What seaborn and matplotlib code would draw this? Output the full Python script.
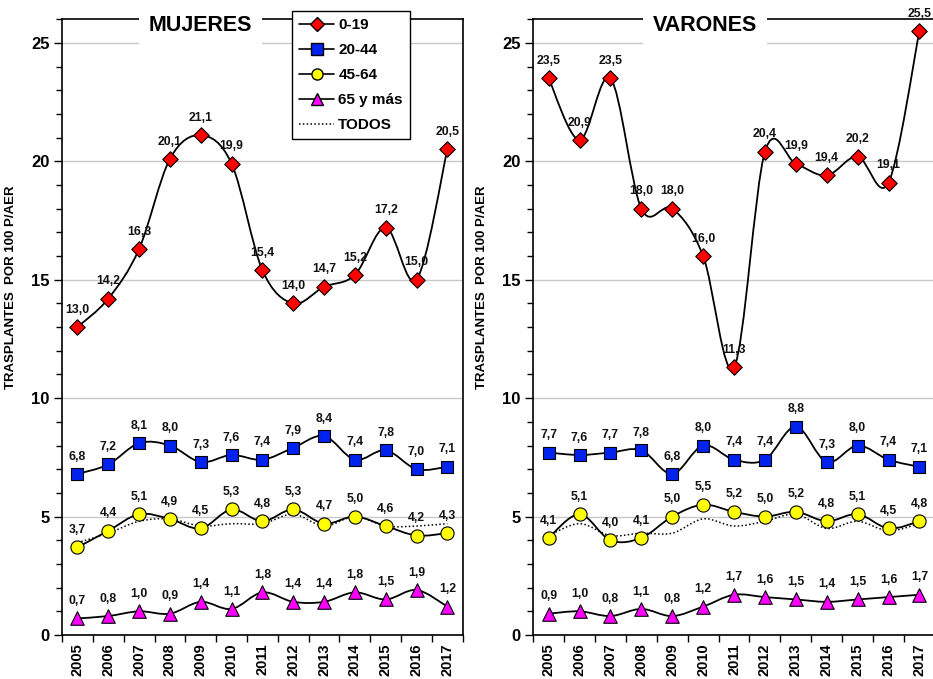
import numpy as np
import matplotlib
matplotlib.use("Agg")
import matplotlib.pyplot as plt
from matplotlib.path import Path
from matplotlib.patches import PathPatch
from matplotlib.lines import Line2D
from matplotlib.ticker import MultipleLocator, FixedLocator
import seaborn as sns

## ------------------------------------------------------------------ ##
## data
## ------------------------------------------------------------------ ##
years = [2005, 2006, 2007, 2008, 2009, 2010, 2011, 2012, 2013, 2014, 2015, 2016, 2017]

muj_0_19 = [13.0, 14.2, 16.3, 20.1, 21.1, 19.9, 15.4, 14.0, 14.7, 15.2, 17.2, 15.0, 20.5]
muj_20_44 = [6.8, 7.2, 8.1, 8.0, 7.3, 7.6, 7.4, 7.9, 8.4, 7.4, 7.8, 7.0, 7.1]
muj_45_64 = [3.7, 4.4, 5.1, 4.9, 4.5, 5.3, 4.8, 5.3, 4.7, 5.0, 4.6, 4.2, 4.3]
muj_65 = [0.7, 0.8, 1.0, 0.9, 1.4, 1.1, 1.8, 1.4, 1.4, 1.8, 1.5, 1.9, 1.2]
muj_todos = [3.9, 4.3, 4.8, 4.9, 4.6, 4.7, 4.7, 5.1, 4.6, 5.0, 4.6, 4.6, 4.7]

var_0_19 = [23.5, 20.9, 23.5, 18.0, 18.0, 16.0, 11.3, 20.4, 19.9, 19.4, 20.2, 19.1, 25.5]
var_20_44 = [7.7, 7.6, 7.7, 7.8, 6.8, 8.0, 7.4, 7.4, 8.8, 7.3, 8.0, 7.4, 7.1]
var_45_64 = [4.1, 5.1, 4.0, 4.1, 5.0, 5.5, 5.2, 5.0, 5.2, 4.8, 5.1, 4.5, 4.8]
var_65 = [0.9, 1.0, 0.8, 1.1, 0.8, 1.2, 1.7, 1.6, 1.5, 1.4, 1.5, 1.6, 1.7]
var_todos = [4.2, 4.7, 4.2, 4.3, 4.3, 4.9, 4.6, 4.8, 5.1, 4.5, 4.8, 4.4, 4.7]

group_names = ["0-19", "20-44", "45-64", "65 y más"]

## ------------------------------------------------------------------ ##
## style
## ------------------------------------------------------------------ ##
sns.set_style("white")
plt.rcParams["font.family"] = ["Liberation Sans", "DejaVu Sans"]
plt.rcParams["font.weight"] = "bold"
plt.rcParams["text.color"] = "black"
plt.rcParams["axes.labelcolor"] = "black"
plt.rcParams["xtick.color"] = "black"
plt.rcParams["ytick.color"] = "black"

styles = [
    dict(marker="D", color="#ff0000", s=62),
    dict(marker="s", color="#0022ee", s=72),
    dict(marker="o", color="#ffff00", s=90),
    dict(marker="^", color="#ff00ff", s=95),
]


def smooth_path(x, y):
    # excel-like smoothed line: cubic bezier segments through the points
    n = len(x)
    verts = [(x[0], y[0])]
    codes = [Path.MOVETO]
    for i in range(n - 1):
        a = max(i - 1, 0)
        b = min(i + 2, n - 1)
        c1 = (x[i] + (x[i + 1] - x[a]) / 6, y[i] + (y[i + 1] - y[a]) / 6)
        c2 = (x[i + 1] - (x[b] - x[i]) / 6, y[i + 1] - (y[b] - y[i]) / 6)
        verts += [c1, c2, (x[i + 1], y[i + 1])]
        codes += [Path.CURVE4] * 3
    return Path(verts, codes)


def fmt(v):
    return f"{v:.1f}".replace(".", ",")


def draw_panel(ax, series, todos, title, title_x):
    xs = np.arange(len(years))
    for vals, st in zip(series, styles):
        vals = np.asarray(vals, dtype=float)
        ax.add_patch(PathPatch(smooth_path(xs, vals), facecolor="none",
                               edgecolor="black", lw=1.3, zorder=2))
        sns.scatterplot(x=xs, y=vals, marker=st["marker"], s=st["s"],
                        color=st["color"], edgecolor="black", linewidth=0.8,
                        zorder=4, ax=ax, legend=False)
        for xi, v in zip(xs, vals):
            ax.annotate(fmt(v), (xi, v), xytext=(0, 12.5),
                        textcoords="offset points", ha="center", va="center",
                        fontsize=8.8, fontweight="bold", color="#111111",
                        zorder=5)
    ax.add_patch(PathPatch(smooth_path(xs, np.asarray(todos, dtype=float)),
                           facecolor="none", edgecolor="black", lw=1.1,
                           linestyle=(0, (1, 1.5)), zorder=3))

    ax.set_xlim(-0.5, len(years) - 0.5)
    ax.set_ylim(0, 26)
    ax.set_xticks(xs)
    ax.set_xticklabels(years, rotation=90, fontsize=10.5, fontweight="bold")
    ax.xaxis.set_minor_locator(FixedLocator(np.arange(-0.5, len(years), 1.0)))
    ax.tick_params(axis="x", which="major", length=0, pad=6)
    ax.tick_params(axis="x", which="minor", length=5, width=1, color="black",
                   direction="out", bottom=True)
    ax.set_yticks([0, 5, 10, 15, 20, 25])
    ax.set_yticklabels(["0", "5", "10", "15", "20", "25"], fontsize=12,
                       fontweight="bold")
    ax.yaxis.set_minor_locator(MultipleLocator(1))
    ax.tick_params(axis="y", which="major", length=6, width=1, color="black",
                   direction="out", left=True, pad=3)
    ax.tick_params(axis="y", which="minor", length=4, width=1, color="black",
                   direction="out", left=True)
    ax.grid(axis="y", which="major", color="#c8c8c8", lw=1)
    ax.set_axisbelow(True)
    for sp in ax.spines.values():
        sp.set_visible(True)
        sp.set_color("black")
        sp.set_linewidth(1.2)
    ax.set_xlabel("")
    ax.set_ylabel("TRASPLANTES  POR 100 P/AER", fontsize=9.5, fontweight="bold")
    ax.yaxis.set_label_coords(-0.112, 0.565)
    ax.text(title_x, 0.99, title, transform=ax.transAxes, ha="center",
            va="center", fontsize=15.5, fontweight="bold", zorder=6,
            bbox=dict(facecolor="white", edgecolor="none", pad=7))


## ------------------------------------------------------------------ ##
## figure
## ------------------------------------------------------------------ ##
fig = plt.figure(figsize=(9.33, 6.79), dpi=100)
ax_m = fig.add_axes([0.0665, 0.0648, 0.4295, 0.907])
ax_v = fig.add_axes([0.5715, 0.0648, 0.4305, 0.907])

draw_panel(ax_m, [muj_0_19, muj_20_44, muj_45_64, muj_65], muj_todos,
           "MUJERES", 0.345)
draw_panel(ax_v, [var_0_19, var_20_44, var_45_64, var_65], var_todos,
           "VARONES", 0.427)

handles = [
    Line2D([], [], color="black", lw=1.2, marker=st["marker"],
           markerfacecolor=st["color"], markeredgecolor="black",
           markersize=7 if st["marker"] == "D" else 8)
    for st in styles
]
handles.append(Line2D([], [], color="black", lw=1.1, linestyle=(0, (1, 1.5))))
leg = ax_m.legend(handles, group_names + ["TODOS"], loc="upper left",
                  bbox_to_anchor=(0.575, 1.013), borderaxespad=0,
                  frameon=True, fancybox=False, framealpha=1, edgecolor="black",
                  prop=dict(size=11, weight="bold"), handlelength=2.3,
                  handletextpad=0.25, labelspacing=0.72, borderpad=0.45)
leg.get_frame().set_linewidth(1.0)
leg.set_zorder(10)
for t in leg.get_texts():
    t.set_color("black")

fig.savefig("out.png", dpi=100)
